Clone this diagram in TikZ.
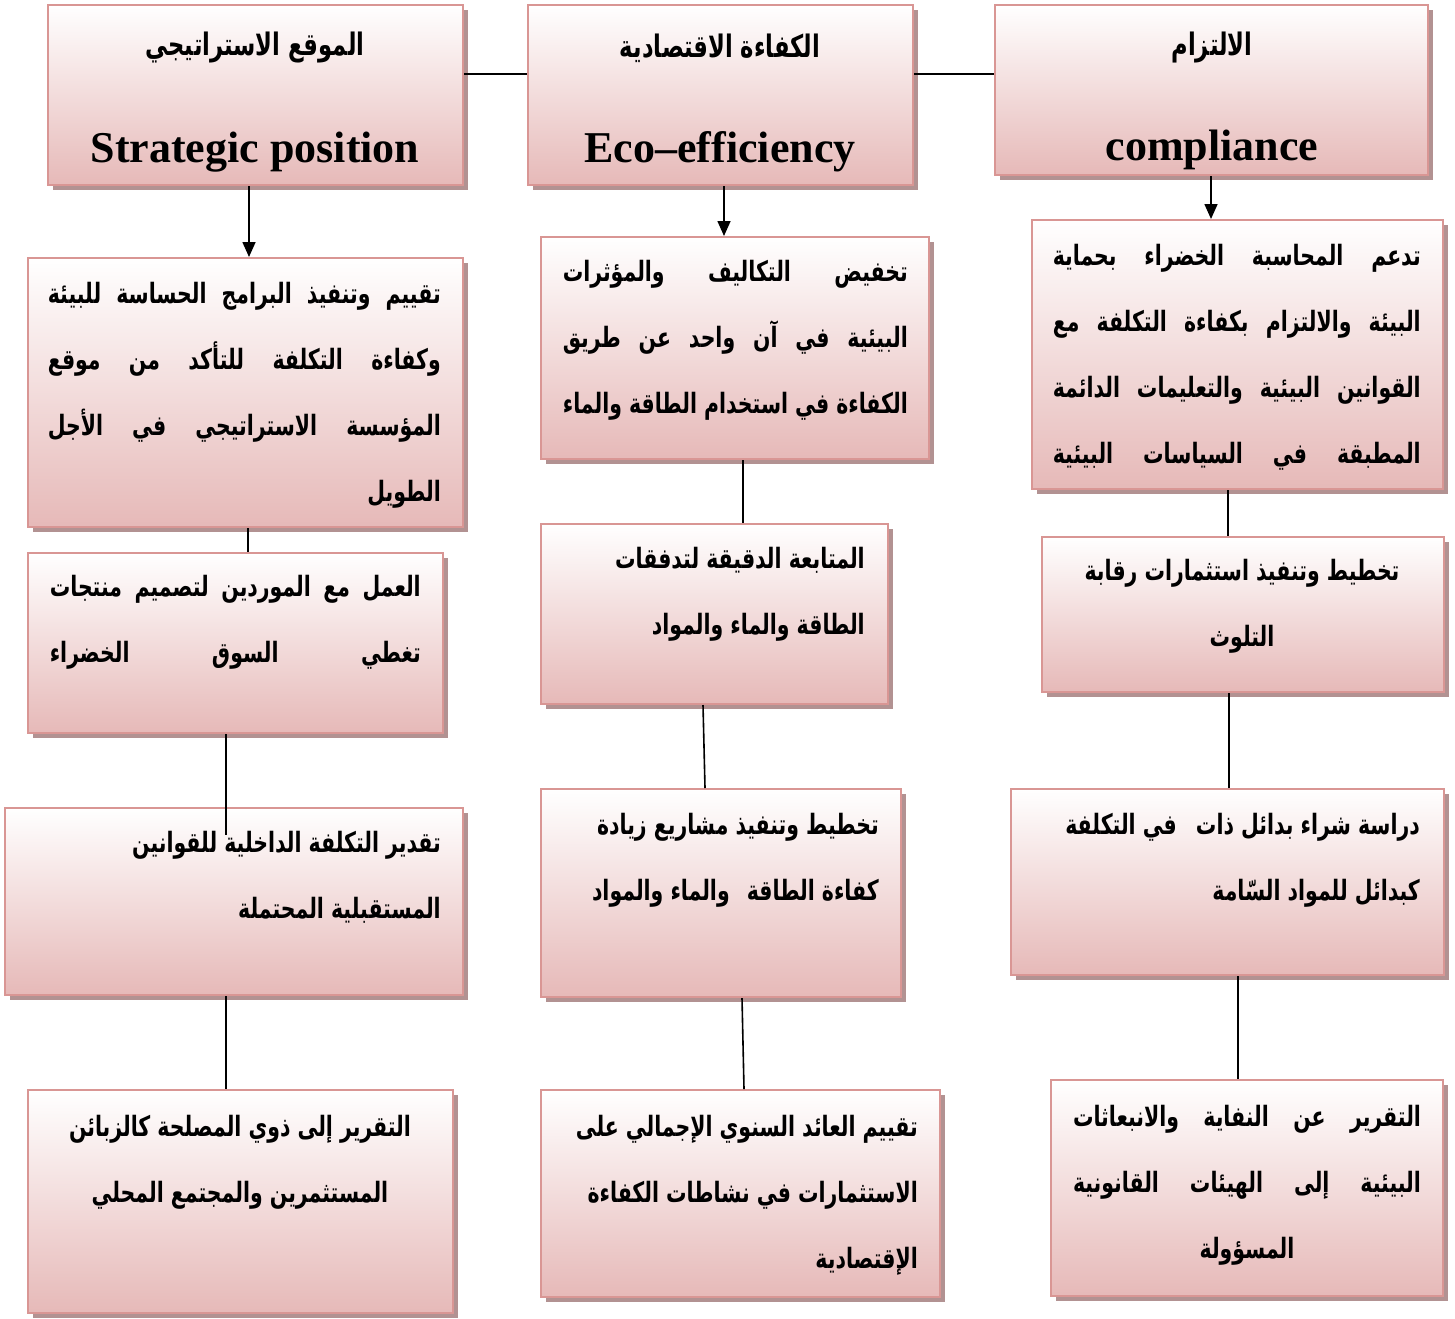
\documentclass[tikz,border=0pt]{standalone}
\usepackage{fontspec}
\setmainfont{Liberation Serif}
\newfontfamily\arfont[Script=Arabic,FakeStretch=0.73]{DejaVu Sans}
\TeXXeTstate=1
\usetikzlibrary{arrows.meta,shadows}
\definecolor{pinkB}{RGB}{217,150,148}
\definecolor{pinkF}{RGB}{230,185,184}
\definecolor{shadowC}{RGB}{178,146,146}
\newcommand\J[2]{\hbox to #1{\beginR #2\endR}}
\newcommand\R[1]{\beginR #1\endR}
\begin{document}
\begin{tikzpicture}[x=1pt,y=-1pt,
  box/.style={draw=pinkB, line width=2pt, top color=white, bottom color=pinkF, inner sep=0pt,
    drop shadow={shadow xshift=5pt, shadow yshift=-5pt, fill=shadowC, opacity=1}},
  conn/.style={line width=1.6pt, black},
  arr/.style={conn, -{Triangle[width=13pt,length=15pt]}},
  ttl/.style={inner sep=0pt, font=\arfont\bfseries\fontsize{31}{36}\selectfont},
  eng/.style={inner sep=0pt, font=\bfseries\fontsize{44}{50}\selectfont},
  txt/.style={inner sep=0pt, font=\arfont\bfseries\fontsize{28}{66}\selectfont}]
\useasboundingbox (0,0) rectangle (1455,1318);
% boxes
\node[box, minimum width=415pt, minimum height=180pt] (b1) at (255.5,95) {};
\node[box, minimum width=385pt, minimum height=180pt] (b2) at (720.5,95) {};
\node[box, minimum width=433pt, minimum height=170pt] (b3) at (1211.5,90) {};
\node[box, minimum width=435pt, minimum height=269pt] (b4) at (245.5,392.5) {};
\node[box, minimum width=388pt, minimum height=222pt] (b5) at (735,348) {};
\node[box, minimum width=411pt, minimum height=269pt] (b6) at (1237.5,354.5) {};
\node[box, minimum width=415pt, minimum height=180pt] (b7) at (235.5,643) {};
\node[box, minimum width=347pt, minimum height=180pt] (b8) at (714.5,614) {};
\node[box, minimum width=402pt, minimum height=155pt] (b9) at (1243,614.5) {};
\node[box, minimum width=458pt, minimum height=187pt] (b10) at (234,901.5) {};
\node[box, minimum width=360pt, minimum height=208pt] (b11) at (721,893) {};
\node[box, minimum width=433pt, minimum height=186pt] (b12) at (1227.5,882) {};
\node[box, minimum width=425pt, minimum height=223pt] (b13) at (240.5,1201.5) {};
\node[box, minimum width=399pt, minimum height=207pt] (b14) at (740.5,1193.5) {};
\node[box, minimum width=392pt, minimum height=216pt] (b15) at (1247,1188) {};
% connectors
\draw[conn] (b1.east |- 0,74) -- (b2.west |- 0,74);
\draw[conn] (b2.east |- 0,74) -- (b3.west |- 0,74);
\draw[arr] (b1.south -| 249,0) -- (b4.north -| 249,0);
\draw[arr] (b2.south -| 724,0) -- (b5.north -| 724,0);
\draw[arr] (b3.south -| 1211,0) -- (b6.north -| 1211,0);
\draw[conn] (b4.south -| 248,0) -- (b7.north -| 248,0);
\draw[conn] (b5.south -| 743,0) -- (b8.north -| 743,0);
\draw[conn] (b6.south -| 1228,0) -- (b9.north -| 1228,0);
\coordinate (e7) at (226,835);
\draw[conn] (b7.south -| 226,0) -- (e7);
\draw[conn] (b8.south -| 703,0) -- (b11.north -| 705,0);
\draw[conn] (b9.south -| 1229,0) -- (b12.north -| 1229,0);
\draw[conn] (b10.south -| 226,0) -- (b13.north -| 226,0);
\draw[conn] (b11.south -| 742,0) -- (b14.north -| 744,0);
\draw[conn] (b12.south -| 1238,0) -- (b15.north -| 1238,0);
% titles
\node[ttl] (t1a) at (255,48) {\R{الموقع الاستراتيجي}};
\node[eng, anchor=base] (t1b) at (255,162) {Strategic position};
\node[ttl] (t2a) at (720,48) {\R{الكفاءة الاقتصادية}};
\node[eng, anchor=base] (t2b) at (720,162) {Eco–efficiency};
\node[ttl] (t3a) at (1212,48) {\R{الالتزام}};
\node[eng, anchor=base] (t3b) at (1212,160) {compliance};
% body texts
\node[txt, anchor=north east, align=right] (t4) at (441,282) {%
\J{393pt}{تقييم\hfill وتنفيذ\hfill البرامج\hfill الحساسة\hfill للبيئة}\\
\J{393pt}{وكفاءة\hfill التكلفة\hfill للتأكد\hfill من\hfill موقع}\\
\J{393pt}{المؤسسة\hfill الاستراتيجي\hfill في\hfill الأجل}\\
\R{الطويل}\hspace{8pt}};
\node[txt, anchor=north east, align=right] (t5) at (908,260) {%
\J{345pt}{تخفيض\hfill التكاليف\hfill والمؤثرات}\\
\J{345pt}{البيئية\hfill في\hfill آن\hfill واحد\hfill عن\hfill طريق}\\
\J{345pt}{الكفاءة\hfill في\hfill استخدام\hfill الطاقة\hfill والماء}};
\node[txt, anchor=north east, align=right] (t6) at (1421,244) {%
\J{368pt}{تدعم\hfill المحاسبة\hfill الخضراء\hfill بحماية}\\
\J{368pt}{البيئة\hfill والالتزام\hfill بكفاءة\hfill التكلفة\hfill مع}\\
\J{368pt}{القوانين\hfill البيئية\hfill والتعليمات\hfill الدائمة}\\
\J{368pt}{المطبقة\hfill في\hfill السياسات\hfill البيئية}};
\node[txt, anchor=north east, align=right] (t7) at (421,575) {%
\J{371pt}{العمل\hfill مع\hfill الموردين\hfill لتصميم\hfill منتجات}\\
\J{371pt}{تغطي\hfill السوق\hfill الخضراء}};
\node[txt, anchor=north east, align=right] (t8) at (865,547) {%
\R{المتابعة الدقيقة لتدفقات}\\
\R{الطاقة والماء والمواد}};
\node[txt, anchor=north, align=center] (t9) at (1242,559) {%
\R{تخطيط وتنفيذ استثمارات رقابة}\\
\R{التلوث}};
\node[txt, anchor=north east, align=right] (t10) at (441,831) {%
\R{تقدير التكلفة الداخلية للقوانين}\\
\R{المستقبلية المحتملة}};
\node[txt, anchor=north east, align=right] (t11) at (879,813) {%
\R{تخطيط وتنفيذ مشاريع زيادة}\\
\R{كفاءة الطاقة\hspace{10pt} والماء والمواد}};
\node[txt, anchor=north east, align=right] (t12) at (1420,813) {%
\R{دراسة شراء بدائل ذات\hspace{12pt} في التكلفة}\\
\R{كبدائل للمواد السّامة}};
\node[txt, anchor=north, align=center] (t13) at (240,1115) {%
\R{التقرير إلى ذوي المصلحة كالزبائن}\\
\R{المستثمرين والمجتمع المحلي}};
\node[txt, anchor=north east, align=right] (t14) at (918,1115) {%
\R{تقييم العائد السنوي الإجمالي على}\\
\R{الاستثمارات في نشاطات الكفاءة}\\
\R{الإقتصادية}};
\node[txt, anchor=north, align=center] (t15) at (1247,1105) {%
\J{348pt}{التقرير\hfill عن\hfill النفاية\hfill والانبعاثات}\\
\J{348pt}{البيئية\hfill إلى\hfill الهيئات\hfill القانونية}\\
\R{المسؤولة}};
\end{tikzpicture}
\end{document}
